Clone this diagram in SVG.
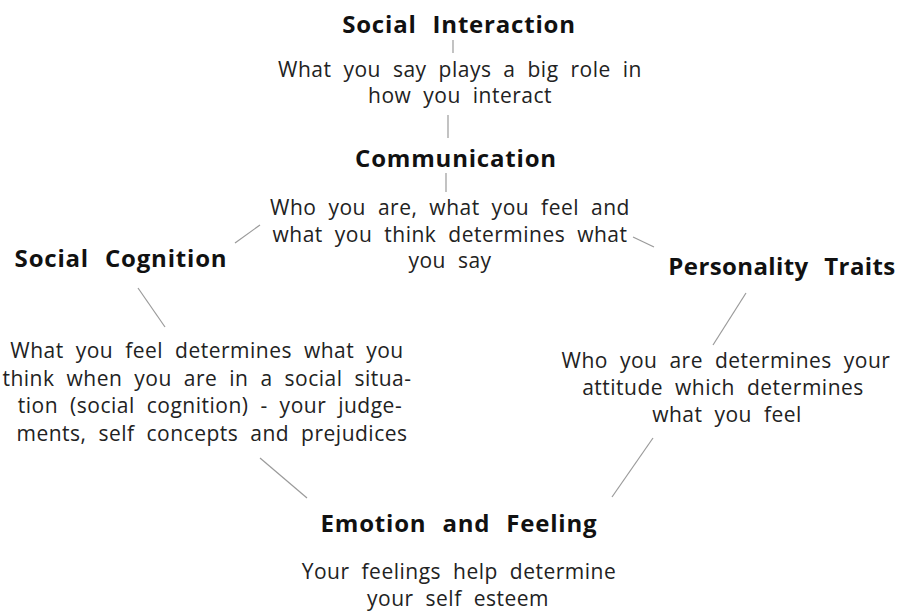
<svg xmlns="http://www.w3.org/2000/svg" width="901" height="616" viewBox="0 0 901 616">
<style>
.t{font-family:"Open Sans","Noto Sans",sans-serif;font-weight:bold;font-size:24px;fill:#111;text-anchor:middle;letter-spacing:0.8px;word-spacing:9px}
.d{font-family:"Open Sans","Noto Sans",sans-serif;font-size:21px;fill:#222;text-anchor:middle;letter-spacing:0.5px;word-spacing:6px}
.c line{stroke:#9a9a9a;stroke-width:1.2}
</style>
<rect width="901" height="616" fill="#fff"/>
<g class="c" id="connectors">
<line x1="453" y1="40" x2="453" y2="53"/>
<line x1="448" y1="115" x2="448" y2="138"/>
<line x1="446" y1="173" x2="446" y2="192"/>
<line x1="235" y1="243" x2="260" y2="225"/>
<line x1="633" y1="237" x2="654" y2="247"/>
<line x1="138" y1="288" x2="165" y2="327"/>
<line x1="746" y1="293" x2="713" y2="345"/>
<line x1="260" y1="458" x2="307" y2="498"/>
<line x1="653" y1="438" x2="612" y2="497"/>
</g>
<g id="social-interaction">
<text class="t" x="459" y="33">Social Interaction</text>
<text class="d" x="460" y="77">What you say plays a big role in</text>
<text class="d" x="460" y="103">how you interact</text>
</g>
<g id="communication">
<text class="t" x="456" y="167">Communication</text>
<text class="d" x="450" y="215">Who you are, what you feel and</text>
<text class="d" x="450" y="242">what you think determines what</text>
<text class="d" x="450" y="268">you say</text>
</g>
<g id="social-cognition">
<text class="t" x="121" y="267">Social Cognition</text>
<text class="d" x="207" y="358">What you feel determines what you</text>
<text class="d" x="207" y="386">think when you are in a social situa-</text>
<text class="d" x="210" y="413">tion (social cognition) - your judge-</text>
<text class="d" x="212" y="441">ments, self concepts and prejudices</text>
</g>
<g id="personality-traits">
<text class="t" x="782" y="275" style="letter-spacing:0.4px">Personality Traits</text>
<text class="d" x="726" y="368">Who you are determines your</text>
<text class="d" x="723" y="395">attitude which determines</text>
<text class="d" x="727" y="422">what you feel</text>
</g>
<g id="emotion-feeling">
<text class="t" x="459" y="532">Emotion and Feeling</text>
<text class="d" x="459" y="579">Your feelings help determine</text>
<text class="d" x="458" y="606">your self esteem</text>
</g>
</svg>
